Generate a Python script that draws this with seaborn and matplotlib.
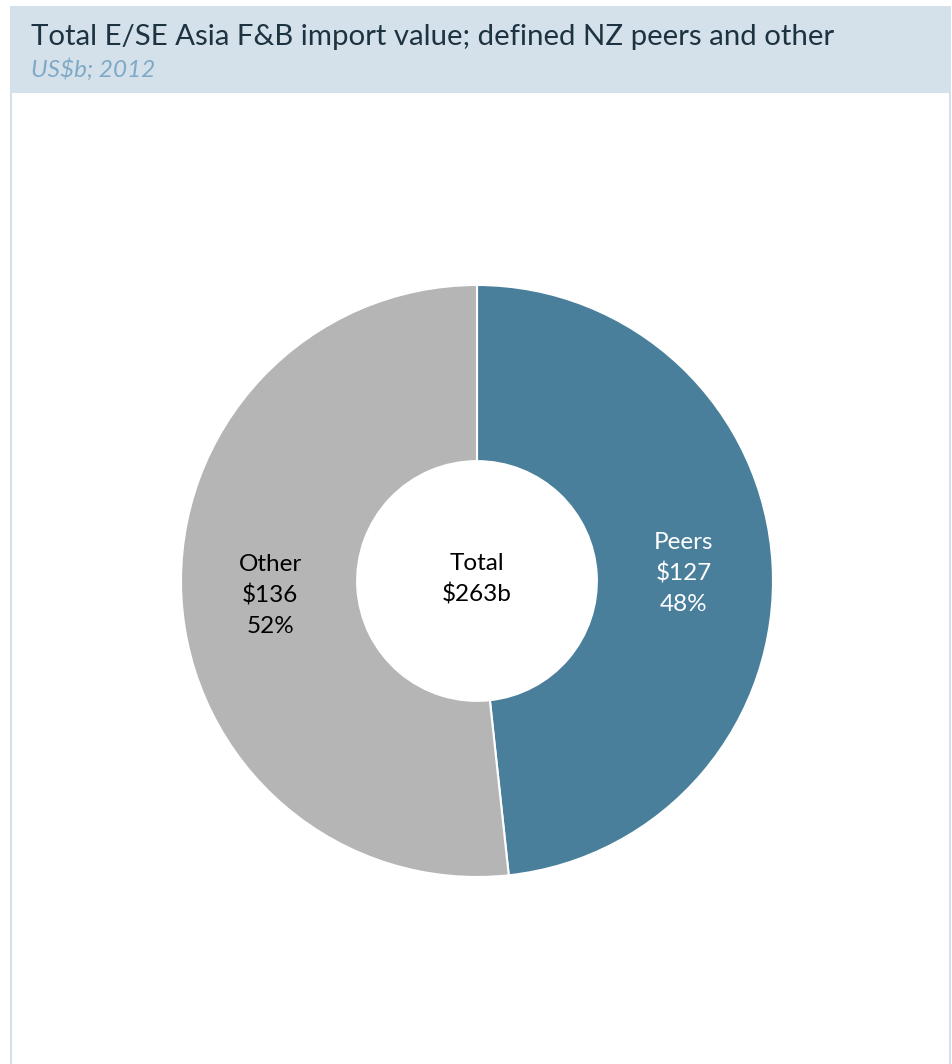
import matplotlib
matplotlib.use("Agg")
import matplotlib.pyplot as plt
from matplotlib.patches import Rectangle
from matplotlib.lines import Line2D
import numpy as np
import seaborn as sns

# ---- data ----
categories = ["Peers", "Other"]
values = [127, 136]
total_label = "Total\n$263b"
title = "Total E/SE Asia F&B import value; defined NZ peers and other"
subtitle = "US$b; 2012"

colors = ["#4a7f9c", "#b5b5b5"]
text_colors = ["white", "black"]

sns.set_theme(style="white")
plt.rcParams["font.family"] = ["Lato", "DejaVu Sans"]

W, H = 953, 1064
fig = plt.figure(figsize=(W / 100, H / 100), dpi=100)
fig.patch.set_facecolor("white")

# header band and panel border
band_col = "#d4e1ea"
fig.patches.append(Rectangle((10 / W, 1 - 93 / H), 941 / W, 87 / H,
                             transform=fig.transFigure, facecolor=band_col,
                             edgecolor="none", zorder=0))
for x in (10.5, 950.5):
    fig.lines.append(Line2D([x / W, x / W], [0, 1 - 93 / H], transform=fig.transFigure,
                            color=band_col, lw=1.5, zorder=0))

fig.text(31 / W, 1 - 37 / H, title, fontsize=21.2, color="#1e3342",
         va="center", ha="left")
fig.text(31 / W, 1 - 69 / H, subtitle, fontsize=17.5, color="#7fa9c6",
         style="italic", va="center", ha="left")

# pie axes
cx, cy, R = 477, 581, 296
ax = fig.add_axes([(cx - R) / W, (H - cy - R) / H, 2 * R / W, 2 * R / H])
wedges, _ = ax.pie(values, colors=colors, startangle=90, counterclock=False,
                   radius=1.0,
                   wedgeprops=dict(width=0.595, edgecolor="white", linewidth=1.5))
ax.set_xlim(-1, 1)
ax.set_ylim(-1, 1)
ax.set_aspect("equal")
ax.axis("off")

tot = sum(values)
for w, name, v, tc in zip(wedges, categories, values, text_colors):
    ang = np.deg2rad((w.theta1 + w.theta2) / 2)
    r = 0.70
    pct = round(100 * v / tot)
    ax.text(r * np.cos(ang), r * np.sin(ang) - 0.012, f"{name}\n${v}\n{pct}%",
            ha="center", va="center", fontsize=17.5, color=tc, linespacing=1.55)

ax.text(0, 0.006, total_label, ha="center", va="center", fontsize=17.5,
        color="black", linespacing=1.55)

fig.savefig("out.png", dpi=100, facecolor="white")
